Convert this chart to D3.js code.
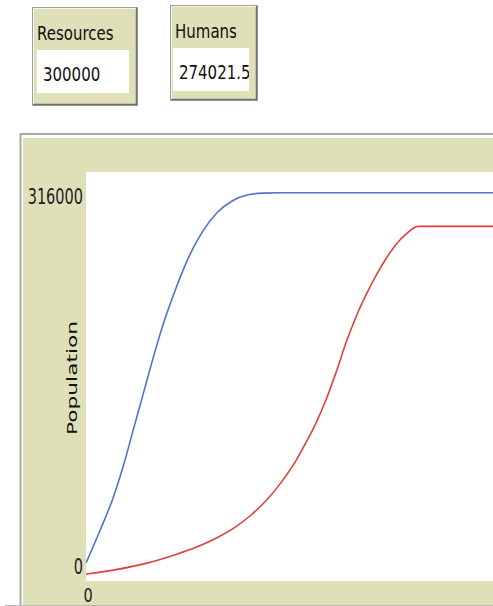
<!DOCTYPE html>
<html>
<head>
<meta charset="utf-8">
<script src="https://cdn.jsdelivr.net/npm/d3@7"></script>
<style>
  body { margin: 0; background: #fff; overflow: hidden; }
  svg { display: block; font-family: "DejaVu Sans", sans-serif; }
</style>
</head>
<body>
<div id="chart"></div>
<script>
// monitors
monitorNames = ["Resources", "Humans"]
monitorValues = ["300000", "274021.57"]

// plot data (ticks, population)
yMax = 316000
resTicks = [0, 14, 27, 37, 47, 57, 67, 77, 87, 97, 107, 117, 131, 147, 161, 177, 194, 420]
resValues = [13900, 39000, 64000, 88000, 116000, 144000, 172000, 198000, 220000, 240000, 257000, 270500, 284500, 294000, 298200, 299700, 300000, 300000]
humTicks = [0, 30, 60, 90, 110, 130, 150, 165, 180, 195, 210, 220, 230, 240, 250, 260, 270, 280, 290, 300, 310, 320, 332, 420]
humValues = [5400, 8800, 13600, 20500, 26000, 33000, 42000, 51000, 62000, 76000, 93000, 107000, 122000, 140000, 161000, 184000, 204000, 221000, 236000, 249000, 260000, 268000, 274021.57, 274021.57]

W = 493, H = 606
beige = "#e0e0b8"

svg = d3.select("#chart")
  .append("svg")
  .attr("width", W)
  .attr("height", H)

// ---- monitors ----
monitorBoxes = [
  {x: 32, y: 7, w: 105, h: 98, fx: 37, fy: 50, fw: 92, fh: 43},
  {x: 170, y: 5, w: 87, h: 95, fx: 173, fy: 48, fw: 76, fh: 43}
]
monitorBoxes.forEach(function(b, i) {
  g = svg.append("g")
  g.append("rect")
    .attr("x", b.x + 0.5).attr("y", b.y + 0.5)
    .attr("width", b.w).attr("height", b.h)
    .attr("fill", beige)
    .attr("stroke", "#a0a0a0")
  // raised bevel: darker bottom/right
  g.append("path")
    .attr("d", `M${b.x + b.w - 0.5},${b.y + 1}V${b.y + b.h - 0.5}H${b.x + 1}`)
    .attr("fill", "none").attr("stroke", "#707070").attr("stroke-width", 1.5)
  g.append("path")
    .attr("d", `M${b.x + 1.5},${b.y + b.h - 1}V${b.y + 1.5}H${b.x + b.w - 1}`)
    .attr("fill", "none").attr("stroke", "#f4f4e4").attr("stroke-width", 1)
  g.append("text")
    .attr("transform", `translate(${b.x + 5}, ${b.y + 33}) scale(1, 1.25)`)
    .style("font-size", "15px")
    .attr("fill", "#111")
    .text(monitorNames[i])
  clipId = "mclip" + i
  g.append("clipPath").attr("id", clipId)
    .append("rect").attr("x", b.fx).attr("y", b.fy).attr("width", b.fw).attr("height", b.fh)
  g.append("rect")
    .attr("x", b.fx).attr("y", b.fy).attr("width", b.fw).attr("height", b.fh)
    .attr("fill", "#fff")
  g.append("g")
    .attr("clip-path", `url(#${clipId})`)
    .append("text")
    .attr("transform", `translate(${b.fx + 6}, ${b.fy + 31}) scale(1, 1.3)`)
    .style("font-size", "15px")
    .attr("fill", "#111")
    .text(monitorValues[i])
})

// ---- plot panel ----
panel = {left: 20, top: 133}
plot = {left: 86, top: 172, bottom: 581}

svg.append("rect")
  .attr("x", panel.left + 3).attr("y", panel.top + 5)
  .attr("width", W).attr("height", H)
  .attr("fill", beige)
svg.append("path")
  .attr("d", `M${panel.left + 0.5},${H}V${panel.top + 1}H${W}`)
  .attr("fill", "none").attr("stroke", "#a8a8a8").attr("stroke-width", 2)
svg.append("line")
  .attr("x1", 5).attr("x2", W)
  .attr("y1", H - 0.5).attr("y2", H - 0.5)
  .attr("stroke", "#b8b8b8")

svg.append("rect")
  .attr("x", plot.left).attr("y", plot.top)
  .attr("width", W - plot.left).attr("height", plot.bottom - plot.top)
  .attr("fill", "#fff")

x = d3.scaleLinear().domain([0, 410]).range([plot.left, plot.left + 410])
y = d3.scaleLinear().domain([0, yMax]).range([plot.bottom, plot.top])

svg.append("clipPath").attr("id", "plotclip")
  .append("rect")
  .attr("x", plot.left).attr("y", plot.top)
  .attr("width", W - plot.left).attr("height", plot.bottom - plot.top)

line = d3.line()
  .x(d => x(d[0]))
  .y(d => y(d[1]))
  .curve(d3.curveMonotoneX)

series = [
  {ticks: resTicks, values: resValues, color: "#4f74c8"},
  {ticks: humTicks, values: humValues, color: "#e2403c"}
]
series.forEach(function(s) {
  svg.append("path")
    .datum(s.ticks.map((t, i) => [t, s.values[i]]))
    .attr("clip-path", "url(#plotclip)")
    .attr("fill", "none")
    .attr("stroke", s.color)
    .attr("stroke-width", 1.6)
    .attr("d", line)
})

// axis labels (min / max only)
svg.append("text")
  .attr("transform", `translate(83, ${y(yMax * 0.937) + 6}) scale(1, 1.45)`)
  .attr("text-anchor", "end")
  .style("font-size", "14.5px")
  .attr("fill", "#222")
  .text(d3.format("d")(yMax))
svg.append("text")
  .attr("transform", `translate(83, ${y(yMax * 0.034) + 7}) scale(1, 1.45)`)
  .attr("text-anchor", "end")
  .style("font-size", "14.5px")
  .attr("fill", "#222")
  .text("0")
svg.append("text")
  .attr("transform", `translate(${x(0) + 2}, ${plot.bottom + 21}) scale(1, 1.4)`)
  .attr("text-anchor", "middle")
  .style("font-size", "14.5px")
  .attr("fill", "#222")
  .text("0")
svg.append("text")
  .attr("transform", `translate(77, 378) scale(1, 1.55) rotate(-90)`)
  .attr("text-anchor", "middle")
  .style("font-size", "14px")
  .attr("fill", "#111")
  .text("Population")
</script>
</body>
</html>
